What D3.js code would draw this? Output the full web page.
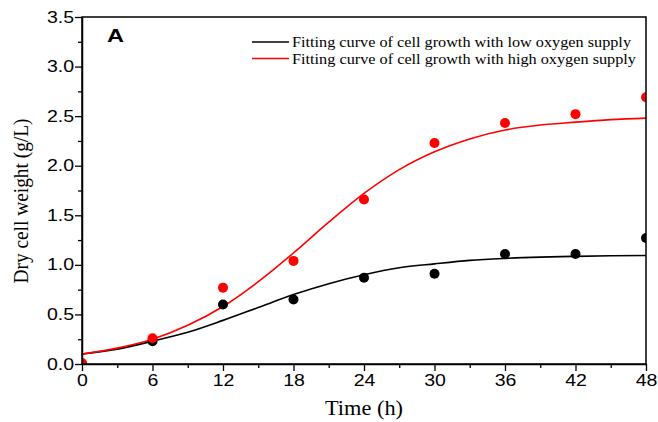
<!DOCTYPE html>
<html>
<head>
<meta charset="utf-8">
<script src="https://cdn.jsdelivr.net/npm/d3@7"></script>
<style>
  html, body { margin: 0; padding: 0; background: #fff; }
  svg { display: block; }
</style>
</head>
<body>
<svg id="chart" width="658" height="422"></svg>
<script>
// Sampling times (h) of the measured dry cell weight
const times = [0, 6, 12, 18, 24, 30, 36, 42, 48];
// Measured dry cell weight (g/L)
const lowOxygen  = [0.00, 0.23, 0.60, 0.65, 0.87, 0.91, 1.11, 1.11, 1.27];
const highOxygen = [0.01, 0.26, 0.77, 1.04, 1.66, 2.23, 2.43, 2.52, 2.69];

// Fitted growth curves sampled every 3 h
const fitTimes = [0, 3, 6, 9, 12, 15, 18, 21, 24, 27, 30, 33, 36, 39, 42, 45, 48];
const fitLow  = [0.10, 0.15, 0.23, 0.32, 0.44, 0.57, 0.70, 0.81, 0.90, 0.97, 1.01, 1.045, 1.065, 1.078, 1.086, 1.092, 1.095];
const fitHigh = [0.10, 0.16, 0.25, 0.39, 0.58, 0.83, 1.12, 1.43, 1.72, 1.96, 2.14, 2.27, 2.36, 2.41, 2.44, 2.465, 2.48];

const xTicks = [0, 6, 12, 18, 24, 30, 36, 42, 48];
const xMinor = [3, 9, 15, 21, 27, 33, 39, 45];
const yTicks = [0, 0.5, 1.0, 1.5, 2.0, 2.5, 3.0, 3.5];
const yMinor = [0.25, 0.75, 1.25, 1.75, 2.25, 2.75, 3.25];

const legendLabels = [
  "Fitting curve of cell growth with low oxygen supply",
  "Fitting curve of cell growth with high oxygen supply"
];
const colors = ["#000000", "#ff0000"];

const svg = d3.select("#chart");
const plotLeft = 82, plotRight = 646, plotTop = 17, plotBottom = 364;

const x = d3.scaleLinear().domain([0, 48]).range([plotLeft, plotRight]);
const y = d3.scaleLinear().domain([0, 3.5]).range([plotBottom, plotTop]);

const sans = "'Liberation Sans', Arial, sans-serif";
const serif = "'Liberation Serif', 'Times New Roman', serif";
const widen = 1.22; // horizontal stretch of the tick label glyphs

// Marks are clipped to the plotting area
svg.append("defs").append("clipPath").attr("id", "plot-clip")
  .append("rect")
  .attr("x", plotLeft).attr("y", plotTop)
  .attr("width", plotRight - plotLeft).attr("height", plotBottom - plotTop);
const plot = svg.append("g").attr("clip-path", "url(#plot-clip)");

// Fitted curves
const line = d3.line().x(d => x(d[0])).y(d => y(d[1])).curve(d3.curveMonotoneX);
[fitLow, fitHigh].forEach((vals, i) => {
  plot.append("path")
    .datum(fitTimes.map((t, j) => [t, vals[j]]))
    .attr("d", line)
    .attr("fill", "none")
    .attr("stroke", colors[i])
    .attr("stroke-width", 1.6);
});

// Measured points
[lowOxygen, highOxygen].forEach((vals, i) => {
  plot.append("g").selectAll("circle")
    .data(times.map((t, j) => [t, vals[j]]))
    .join("circle")
    .attr("cx", d => x(d[0]))
    .attr("cy", d => y(d[1]))
    .attr("r", 5)
    .attr("fill", colors[i]);
});

// Frame
svg.append("rect")
  .attr("x", plotLeft).attr("y", plotTop)
  .attr("width", plotRight - plotLeft).attr("height", plotBottom - plotTop)
  .attr("fill", "none").attr("stroke", "#000").attr("stroke-width", 1.5);

// X axis
const xAxis = svg.append("g").attr("transform", `translate(0,${plotBottom})`)
  .call(d3.axisBottom(x).tickValues(xTicks).tickFormat(d3.format("d")).tickSize(7).tickSizeOuter(0));
svg.append("g").attr("transform", `translate(0,${plotBottom})`)
  .call(d3.axisBottom(x).tickValues(xMinor).tickFormat("").tickSize(4).tickSizeOuter(0))
  .select(".domain").remove();

// Y axis
const yAxis = svg.append("g").attr("transform", `translate(${plotLeft},0)`)
  .call(d3.axisLeft(y).tickValues(yTicks).tickFormat(d3.format(".1f")).tickSize(7).tickSizeOuter(0));
svg.append("g").attr("transform", `translate(${plotLeft},0)`)
  .call(d3.axisLeft(y).tickValues(yMinor).tickFormat("").tickSize(4).tickSizeOuter(0))
  .select(".domain").remove();

svg.selectAll(".tick line").attr("stroke", "#000").attr("stroke-width", 1.3);
svg.selectAll(".domain").attr("stroke", "#000").attr("stroke-width", 1.5);
xAxis.selectAll("text")
  .attr("font-family", sans).attr("font-size", 16).attr("fill", "#000")
  .attr("y", 10).attr("dy", "0.75em")
  .attr("transform", `scale(${widen},1)`);
yAxis.selectAll("text")
  .attr("font-family", sans).attr("font-size", 16).attr("fill", "#000")
  .attr("x", -8 / widen)
  .attr("transform", `scale(${widen},1)`);

// Axis titles
svg.append("text")
  .attr("x", 364).attr("y", 415)
  .attr("text-anchor", "middle")
  .attr("font-family", serif).attr("font-size", 20)
  .attr("textLength", 78).attr("lengthAdjust", "spacingAndGlyphs")
  .text("Time (h)");
svg.append("text")
  .attr("transform", `translate(28,201) rotate(-90)`)
  .attr("text-anchor", "middle")
  .attr("font-family", serif).attr("font-size", 20)
  .attr("textLength", 165).attr("lengthAdjust", "spacingAndGlyphs")
  .text("Dry cell weight (g/L)");

// Panel letter
svg.append("text")
  .attr("x", 107).attr("y", 42)
  .attr("font-family", sans).attr("font-size", 19).attr("font-weight", "bold")
  .attr("textLength", 17).attr("lengthAdjust", "spacingAndGlyphs")
  .text("A");

// Legend
const legendWidths = [339, 344];
legendLabels.forEach((label, i) => {
  const ly = 42 + i * 16.5;
  svg.append("line")
    .attr("x1", 252).attr("x2", 289).attr("y1", ly).attr("y2", ly)
    .attr("stroke", colors[i]).attr("stroke-width", 1.6);
  svg.append("text")
    .attr("x", 292).attr("y", ly + 5)
    .attr("font-family", serif).attr("font-size", 15)
    .attr("textLength", legendWidths[i]).attr("lengthAdjust", "spacingAndGlyphs")
    .text(label);
});
</script>
</body>
</html>
